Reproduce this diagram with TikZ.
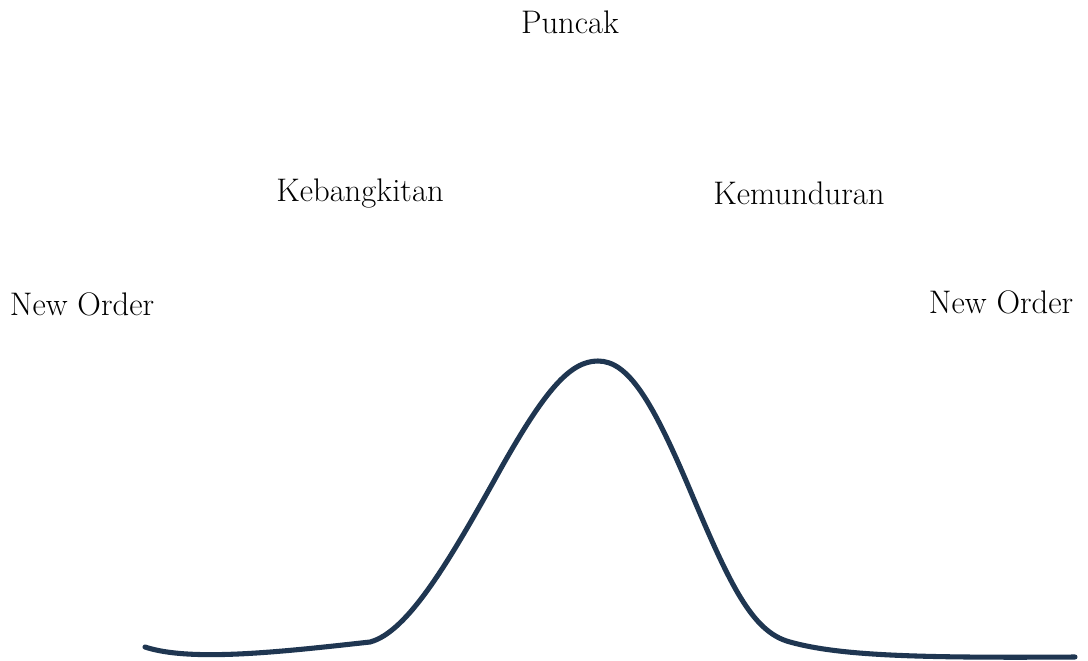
\documentclass[tikz,border=0pt]{standalone}
\usepackage{fontspec}
\definecolor{curvecol}{HTML}{1F3651}
\tikzset{lbl/.style={font=\fontsize{24.5}{28}\selectfont, inner sep=0pt, text=black},
  wave/.style={draw=curvecol, line width=3.8pt, line cap=round}}
\begin{document}
\begin{tikzpicture}[x=0.75pt,y=-0.75pt]
\useasboundingbox (0,0) rectangle (1088,660);
\node[lbl] (puncak) at (570,22) {Puncak};
\node[lbl] (bangkit) at (360,193) {Kebangkitan};
\node[lbl] (mundur) at (799,193) {Kemunduran};
\node[lbl] (no1) at (82,304) {New Order};
\node[lbl] (no2) at (1001,302) {New Order};
\draw[wave] (145,647) .. controls (190,662) and (280,652) .. (370,642)
  .. controls (408,632) and (450,560) .. (500,470)
  .. controls (545,390) and (570,361) .. (598,361)
  .. controls (628,361) and (652,400) .. (690,490)
  .. controls (730,585) and (752,632) .. (790,642)
  .. controls (840,656) and (920,658) .. (1075,657);
\end{tikzpicture}
\end{document}
